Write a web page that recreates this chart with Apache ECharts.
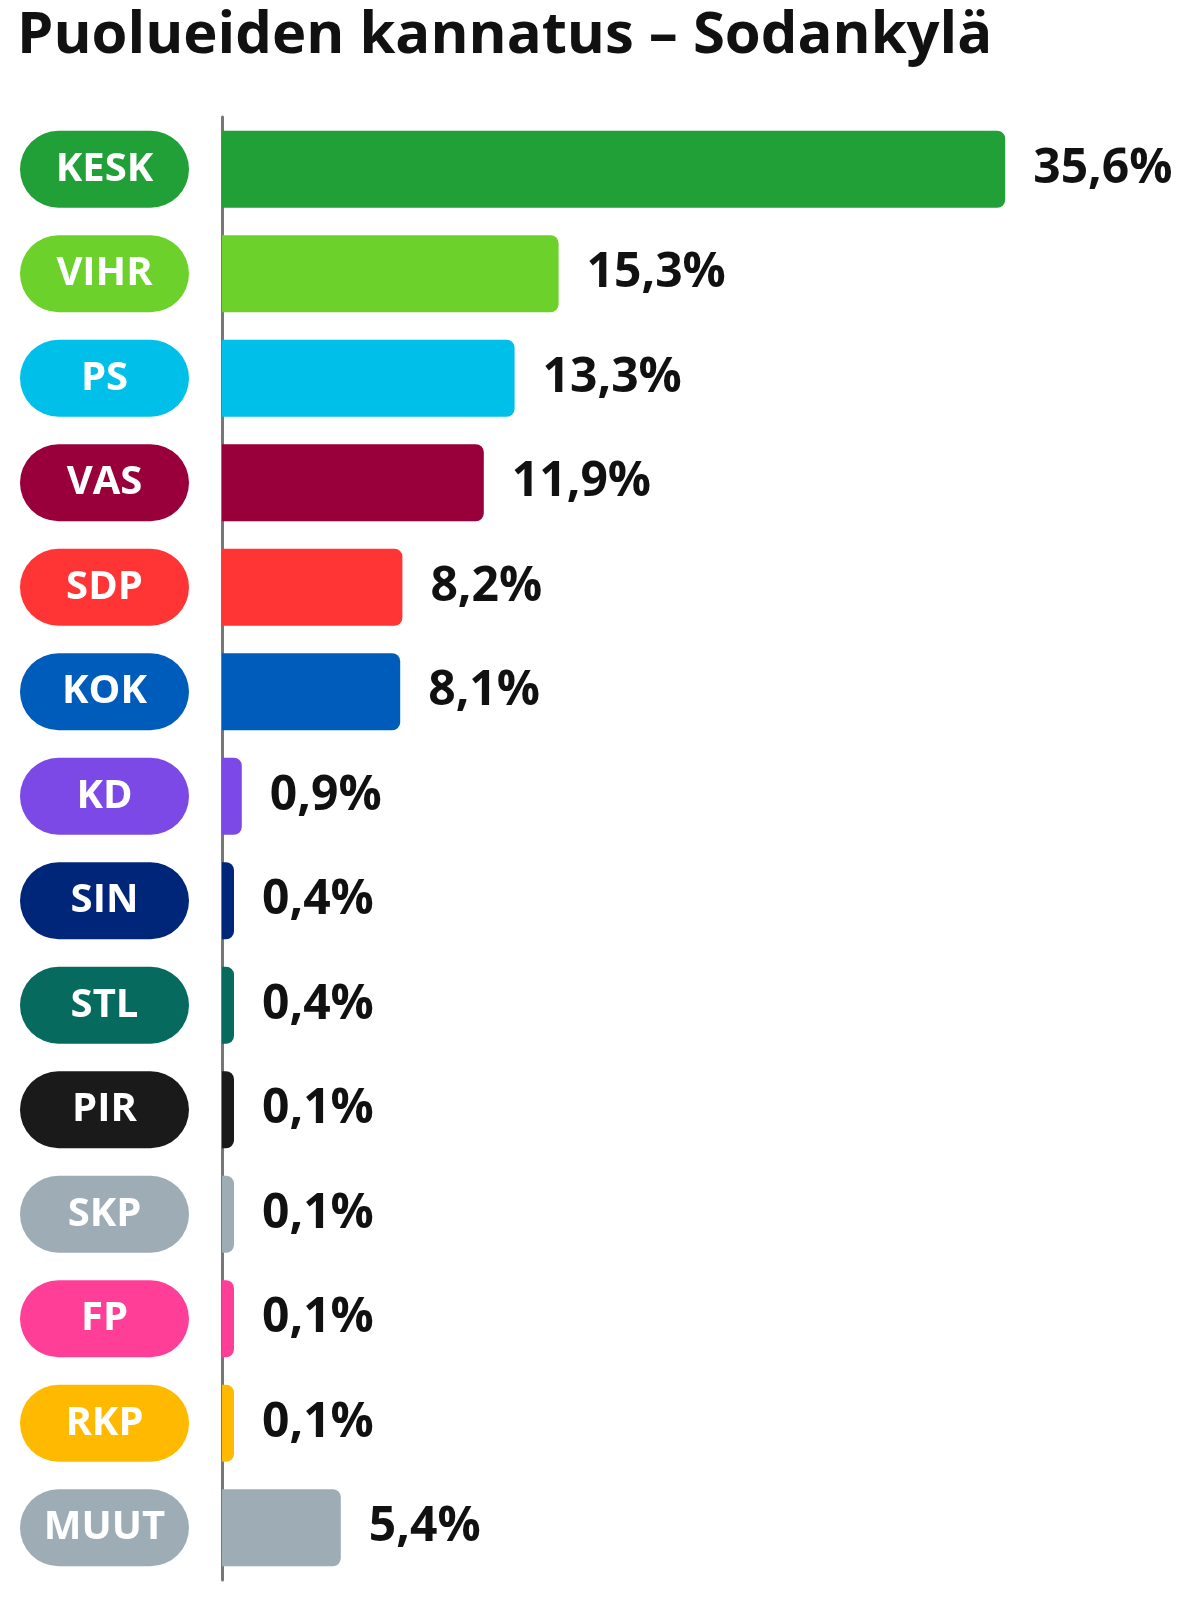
<!DOCTYPE html>
<html><head><meta charset="utf-8">
<script src="https://cdn.jsdelivr.net/npm/echarts@6/dist/echarts.min.js"></script>
<style>html,body{margin:0;padding:0;background:#fff}#c{width:1199px;height:1617px}</style>
</head><body><div id="c"></div>
<script>
const parties = ["KESK","VIHR","PS","VAS","SDP","KOK","KD","SIN","STL","PIR","SKP","FP","RKP","MUUT"];
const values = [35.6,15.3,13.3,11.9,8.2,8.1,0.9,0.4,0.4,0.1,0.1,0.1,0.1,5.4];
const colors = ["#21a037","#6cd22b","#00c0ea","#99003b","#ff3535","#005cbb","#7c49e6","#00267a","#066a5f","#1a1a1a","#9eadb5","#ff3f97","#ffba00","#9eadb5"];
const FONT = "Open Sans";
const rich = {};
parties.forEach((p,i)=>{
  rich['p'+i] = {backgroundColor:colors[i],color:'#fff',width:169,height:77,borderRadius:39,align:'center',
    fontFamily:FONT,fontWeight:'bold',fontSize:40,lineHeight:77};
});
const chart = echarts.init(document.getElementById('c'));
chart.setOption({
  animation:false,
  title:{text:'Puolueiden kannatus – Sodankylä',left:12,top:2,
    textStyle:{fontFamily:FONT,fontWeight:'bold',fontSize:58,color:'#111'}},
  grid:{left:222,right:97,top:117,bottom:37,containLabel:false},
  xAxis:{type:'value',min:0,max:40,show:false},
  yAxis:{type:'category',data:parties,inverse:true,
    axisLine:{show:true,lineStyle:{color:'#777',width:3}},
    axisTick:{show:false},
    axisLabel:{margin:33,formatter:(v)=>'{p'+parties.indexOf(v)+'|'+v+'}',rich}},
  series:[{type:'bar',barWidth:77,barMinHeight:12,
    data:values.map((v,i)=>({value:v,itemStyle:{color:colors[i],borderRadius:[0,8,8,0]}})),
    label:{show:true,position:'right',distance:28,color:'#111',fontFamily:FONT,fontWeight:'bold',fontSize:48,
      formatter:p=>p.value.toFixed(1).replace('.',',')+'%'}}]
});
</script></body></html>
